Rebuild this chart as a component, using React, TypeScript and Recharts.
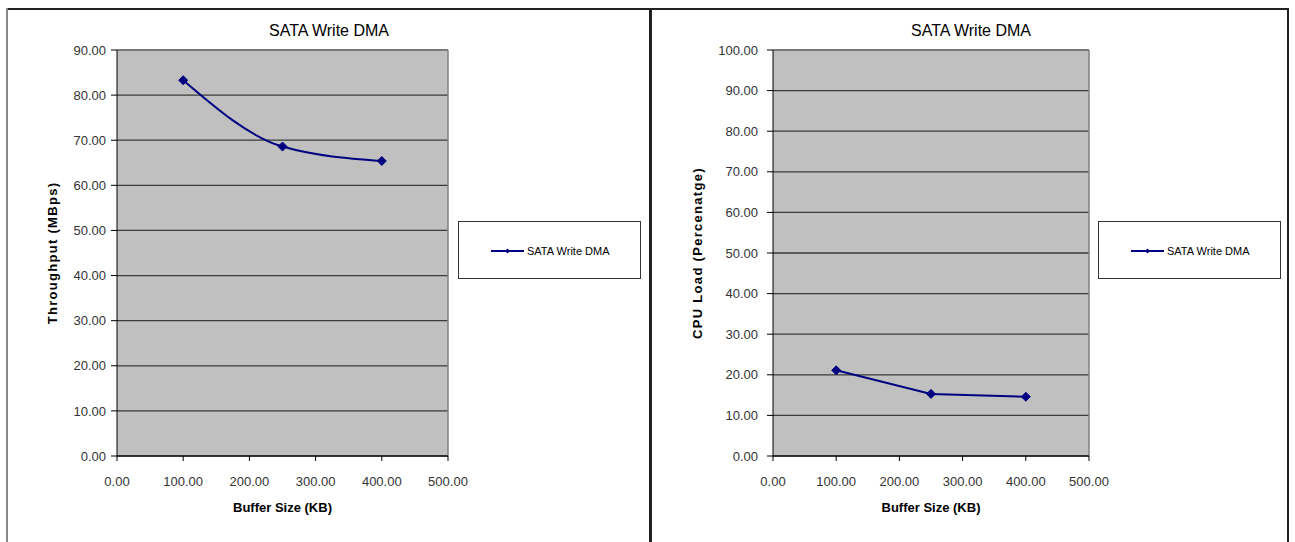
import React from 'react';
import { LineChart, Line, XAxis, YAxis, CartesianGrid, Legend, ReferenceLine, Label } from 'recharts';

const seriesName = 'SATA Write DMA';
const bufferSizes = [100, 250, 400];
const throughput = [83.3, 68.6, 65.4];
const cpuLoad = [21.1, 15.3, 14.6];
const xTicks = [0, 100, 200, 300, 400, 500];
const yTicksLeft = [0, 10, 20, 30, 40, 50, 60, 70, 80, 90];
const yTicksRight = [0, 10, 20, 30, 40, 50, 60, 70, 80, 90, 100];

const leftData = bufferSizes.map((x, i) => ({ x, y: throughput[i] }));
const rightData = bufferSizes.map((x, i) => ({ x, y: cpuLoad[i] }));

const NAVY = '#000080';
const FONT = 'Arial, "Liberation Sans", sans-serif';

const Diamond = (props: any) => {
  const { cx, cy, index } = props;
  if (cx == null || cy == null) return <g key={index} />;
  const r = 4.5;
  return (
    <path
      key={index}
      d={`M${cx},${cy - r}L${cx + r},${cy}L${cx},${cy + r}L${cx - r},${cy}Z`}
      fill={NAVY}
      stroke={NAVY}
      strokeWidth={1}
    />
  );
};

const LegendBox = () => (
  <div
    style={{
      width: 181,
      height: 56,
      border: '1px solid #333',
      background: '#fff',
      boxSizing: 'content-box',
      position: 'relative',
      fontFamily: FONT,
    }}
  >
    <svg width={181} height={56} style={{ position: 'absolute', left: 0, top: 0 }}>
      <line x1={32} x2={65} y1={29} y2={29} stroke={NAVY} strokeWidth={2} />
      <path d="M48.5,26.5L51,29L48.5,31.5L46,29Z" fill={NAVY} />
      <text x={68} y={33} fontSize={11} fill="#000" fontFamily={FONT}>
        {seriesName}
      </text>
    </svg>
  </div>
);

const fmt = (v: number) => v.toFixed(2);

type PanelProps = {
  data: { x: number; y: number }[];
  yMax: number;
  yTicks: number[];
  yTitle: string;
  smooth: boolean;
  margin: { top: number; right: number; bottom: number; left: number };
  legendLeft: number;
  yLabelOffset: number;
  yTickMargin: number;
};

const Panel = ({ data, yMax, yTicks, yTitle, smooth, margin, legendLeft, yLabelOffset, yTickMargin }: PanelProps) => (
  <LineChart width={650} height={542} data={data} margin={margin}>
    <CartesianGrid vertical={false} fill="#C0C0C0" stroke="#3a3a3a" strokeWidth={1.3} fillOpacity={1} />
    <XAxis
      dataKey="x"
      type="number"
      domain={[0, 500]}
      ticks={xTicks}
      tickFormatter={fmt}
      height={40}
      tickSize={5}
      tickMargin={16}
      stroke="#000"
      tick={{ fill: '#333', fontSize: 13, fontFamily: FONT }}
      interval={0}
    >
      <Label
        value="Buffer Size (KB)"
        position="insideBottom"
        offset={-16}
        style={{ fontWeight: 'bold', fontSize: 13, fontFamily: FONT, fill: '#000' }}
      />
    </XAxis>
    <YAxis
      type="number"
      domain={[0, yMax]}
      ticks={yTicks}
      tickFormatter={fmt}
      width={60}
      tickSize={6}
      tickMargin={yTickMargin}
      stroke="#000"
      tick={{ fill: '#333', fontSize: 13, fontFamily: FONT }}
      interval={0}
    >
      <Label
        value={yTitle}
        angle={-90}
        position="insideLeft"
        offset={yLabelOffset}
        style={{ fontWeight: 'bold', fontSize: 13, fontFamily: FONT, fill: '#000', textAnchor: 'middle', letterSpacing: 1.3 }}
      />
    </YAxis>
    <ReferenceLine x={500} stroke="#808080" strokeWidth={1.5} />
    <ReferenceLine y={yMax} stroke="#808080" strokeWidth={1.5} />
    <Legend
      layout="vertical"
      align="center"
      verticalAlign="middle"
      content={() => <LegendBox />}
      wrapperStyle={{ left: legendLeft, top: 221, width: 183 }}
    />
    <Line
      type={smooth ? 'monotone' : 'linear'}
      dataKey="y"
      name={seriesName}
      stroke={NAVY}
      strokeWidth={2}
      dot={Diamond}
      activeDot={false}
      isAnimationActive={false}
    />
  </LineChart>
);

export default function App() {
  return (
    <div style={{ position: 'absolute', left: 0, top: 0, width: 1295, height: 542, background: '#fff', overflow: 'hidden' }}>
      {/* panel borders */}
      <div style={{ position: 'absolute', left: 6, top: 8, width: 1283, height: 0, borderTop: '2px solid #222' }} />
      <div style={{ position: 'absolute', left: 6, top: 8, width: 0, height: 540, borderLeft: '2px solid #888' }} />
      <div style={{ position: 'absolute', left: 649, top: 8, width: 0, height: 540, borderLeft: '3px solid #222' }} />
      <div style={{ position: 'absolute', left: 1287, top: 8, width: 0, height: 540, borderLeft: '2px solid #222' }} />

      <div style={{ position: 'absolute', left: 0, top: 0 }}>
        <div style={{ position: 'absolute', left: 0, top: 22, width: 650, zIndex: 2, pointerEvents: 'none' }}>
          <span style={{ position: 'absolute', left: 329, transform: 'translateX(-50%)', fontFamily: FONT, fontSize: 16, whiteSpace: 'nowrap' }}>
            {seriesName}
          </span>
        </div>
        <Panel
          data={leftData}
          yMax={90}
          yTicks={yTicksLeft}
          yTitle="Throughput (MBps)"
          smooth={true}
          margin={{ top: 50, right: 202, bottom: 46, left: 57 }}
          legendLeft={458}
          yLabelOffset={-5}
          yTickMargin={5}
        />
      </div>
      <div style={{ position: 'absolute', left: 645, top: 0 }}>
        <div style={{ position: 'absolute', left: 0, top: 22, width: 650, zIndex: 2, pointerEvents: 'none' }}>
          <span style={{ position: 'absolute', left: 326, transform: 'translateX(-50%)', fontFamily: FONT, fontSize: 16, whiteSpace: 'nowrap' }}>
            {seriesName}
          </span>
        </div>
        <Panel
          data={rightData}
          yMax={100}
          yTicks={yTicksRight}
          yTitle="CPU Load (Percenatge)"
          smooth={false}
          margin={{ top: 50, right: 206, bottom: 46, left: 68 }}
          legendLeft={453}
          yLabelOffset={-16}
          yTickMargin={9}
        />
      </div>
    </div>
  );
}
